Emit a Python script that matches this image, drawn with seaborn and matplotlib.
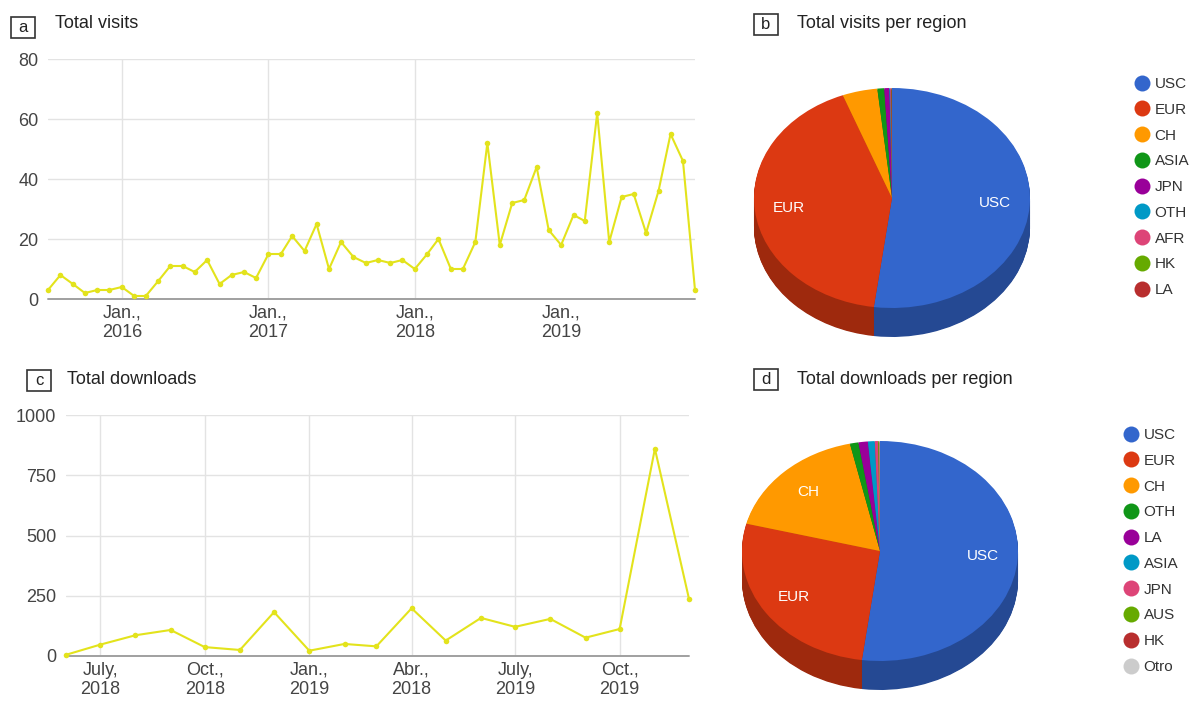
import numpy as np
import pandas as pd
import matplotlib
matplotlib.use("Agg")
import matplotlib.pyplot as plt
import matplotlib.colors as mcolors
from matplotlib.lines import Line2D
from matplotlib.patches import Rectangle
import seaborn as sns

# monthly visits, Jul 2015 - Dec 2019
visits = [3, 8, 5, 2, 3, 3, 4, 1, 1, 6, 11, 11, 9, 13, 5, 8, 9, 7,
          15, 15, 21, 16, 25, 10, 19, 14, 12, 13, 12, 13, 10, 15, 20, 10,
          10, 19, 52, 18, 32, 33, 44, 23, 18, 28, 26, 62, 19, 34, 35, 22,
          36, 55, 46, 3]
visit_months = pd.date_range("2015-07-01", periods=len(visits), freq="MS")
visit_ticks = pd.to_datetime(["2016-01-01", "2017-01-01", "2018-01-01", "2019-01-01"])
visit_ticklabels = ["Jan.,\n2016", "Jan.,\n2017", "Jan.,\n2018", "Jan.,\n2019"]

# monthly downloads, Jun 2018 - Dec 2019
downloads = [5, 47, 86, 108, 37, 25, 182, 22, 50, 40, 198, 64, 158, 121,
             154, 76, 112, 860, 237]
download_months = pd.date_range("2018-06-01", periods=len(downloads), freq="MS")
download_ticks = pd.to_datetime(["2018-07-01", "2018-10-01", "2019-01-01",
                                 "2019-04-01", "2019-07-01", "2019-10-01"])
download_ticklabels = ["July,\n2018", "Oct.,\n2018", "Jan.,\n2019",
                       "Abr.,\n2018", "July,\n2019", "Oct.,\n2019"]

# share per region (%)
visit_regions = ["USC", "EUR", "CH", "ASIA", "JPN", "OTH", "AFR", "HK", "LA"]
visit_share = [52.1, 42.1, 4.1, 0.8, 0.6, 0.1, 0.1, 0.05, 0.05]
download_regions = ["USC", "EUR", "CH", "OTH", "LA", "ASIA", "JPN", "AUS", "HK", "Otro"]
download_share = [52.1, 26.9, 17.5, 1.0, 1.1, 0.8, 0.4, 0.1, 0.05, 0.05]

palette = ["#3366cc", "#dc3912", "#ff9900", "#109618", "#990099",
           "#0099c6", "#dd4477", "#66aa00", "#b82e2e"]
other_color = "#cccccc"
line_color = "#e3e31c"

sns.set_theme(style="white")
plt.rcParams["font.family"] = ["Liberation Sans", "DejaVu Sans"]

W, H = 1194, 702
fig = plt.figure(figsize=(W / 100, H / 100), dpi=100)
fig.patch.set_facecolor("white")


def px_axes(x0, y0, x1, y1):
    return fig.add_axes([x0 / W, 1 - y1 / H, (x1 - x0) / W, (y1 - y0) / H])


def line_panel(ax, x, y, ticks, ticklabels, yticks, hide_grid=()):
    sns.lineplot(x=x, y=y, ax=ax, color=line_color, linewidth=1.5,
                 marker="o", markersize=4, markeredgewidth=0)
    ax.set_xlim(x[0], x[-1])
    ax.set_ylim(yticks[0], yticks[-1])
    ax.set_yticks(yticks)
    ax.set_xticks(ticks)
    ax.set_xticklabels(ticklabels)
    ax.set_xlabel("")
    ax.set_ylabel("")
    ax.grid(True, color="#e3e3e3", linewidth=1)
    for i in hide_grid:
        ax.xaxis.get_gridlines()[i].set_visible(False)
    for s in ax.spines.values():
        s.set_visible(False)
    ax.axhline(0, color="#a0a0a0", linewidth=1.4, zorder=1)
    ax.tick_params(length=0, labelsize=13, labelcolor="#444444")
    ax.tick_params(axis="y", pad=7)
    ax.tick_params(axis="x", pad=4)
    for l in ax.get_lines():
        l.set_clip_on(False)


ax_a = px_axes(48, 59, 695, 299)
line_panel(ax_a, visit_months, visits, visit_ticks, visit_ticklabels,
           [0, 20, 40, 60, 80], hide_grid=(3,))

ax_c = px_axes(66, 415, 689, 656)
line_panel(ax_c, download_months, downloads, download_ticks, download_ticklabels,
           [0, 250, 500, 750, 1000])


def pie3d(ax, shares, names, colors, shown, rx, ry, left, right, up, down):
    depth = 29 / ry
    dark = [tuple(c * 0.72 for c in mcolors.to_rgb(col)) for col in colors]
    for off in np.linspace(depth, 0.01, 40):
        ax.pie(shares, colors=dark, startangle=90, counterclock=False,
               center=(0, -off), wedgeprops=dict(linewidth=0))
    wedges, texts = ax.pie(shares, colors=colors, startangle=90, counterclock=False,
                           labels=[n if n in shown else "" for n in names],
                           labeldistance=0.75,
                           textprops=dict(color="white", fontsize=11),
                           wedgeprops=dict(linewidth=0))
    for t in texts:
        t.set_ha("center")
        t.set_va("center")
    ax.set_aspect("auto")
    ax.set_xlim(-left / rx, right / rx)
    ax.set_ylim(-down / ry, up / ry)


ax_b = px_axes(742, 78, 1042, 358)
pie3d(ax_b, visit_share, visit_regions, palette, ("USC", "EUR"),
      138, 110, 150, 150, 120, 160)

ax_d = px_axes(730, 431, 1030, 700)
pie3d(ax_d, download_share, download_regions, palette + [other_color],
      ("USC", "EUR", "CH"), 138, 110, 150, 150, 120, 149)


def region_legend(names, colors, x, y):
    handles = [Line2D([], [], marker="o", linestyle="", markersize=11.5,
                      markerfacecolor=c, markeredgewidth=0) for c in colors]
    fig.legend(handles, names, loc="upper left",
               bbox_to_anchor=(x / W, 1 - y / H), frameon=False, fontsize=11,
               labelspacing=0.77, handlelength=1.0, handletextpad=0.35,
               borderpad=0, borderaxespad=0, labelcolor="#333333")


region_legend(visit_regions, palette, 1134, 77)
region_legend(download_regions, palette + [other_color], 1123, 428)


def panel_title(letter, bx, by, title, tx, ty):
    fig.add_artist(Rectangle((bx / W, 1 - (by + 21) / H), 24 / W, 21 / H,
                             transform=fig.transFigure, fill=False,
                             edgecolor="#333333", linewidth=1.2))
    fig.text((bx + 12) / W, 1 - (by + 10.5) / H, letter, ha="center", va="center",
             fontsize=12, color="#222222")
    fig.text(tx / W, 1 - ty / H, title, ha="left", va="center",
             fontsize=13, color="#222222")


panel_title("a", 11, 17, "Total visits", 55, 23)
panel_title("b", 754, 14, "Total visits per region", 797, 24)
panel_title("c", 27, 370, "Total downloads", 67, 380)
panel_title("d", 754, 369, "Total downloads per region", 797, 380)

fig.savefig("out.png", dpi=100)
